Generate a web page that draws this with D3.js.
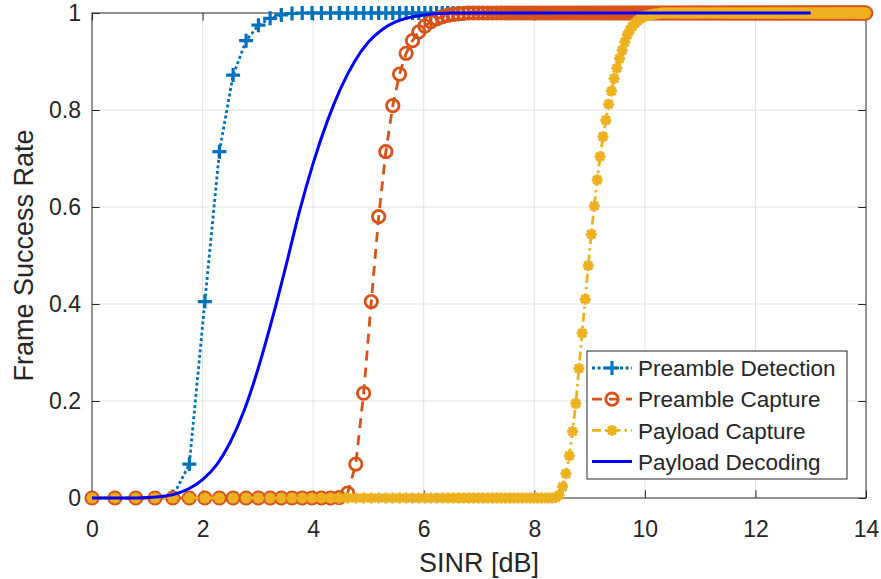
<!DOCTYPE html>
<html><head><meta charset="utf-8">
<script src="https://cdn.jsdelivr.net/npm/d3@7"></script>
<style>
body{margin:0;background:#fff}
svg{display:block}
text{font-family:"Liberation Sans",Arial,Helvetica,sans-serif;fill:#262626}
</style>
</head><body>
<svg id="chart" width="881" height="579"></svg>
<script>
// ---------- data ----------
const xTicks = [0, 2, 4, 6, 8, 10, 12, 14];
const xTickLabels = ["0", "2", "4", "6", "8", "10", "12", "14"];
const yTicks = [0, 0.2, 0.4, 0.6, 0.8, 1];
const yTickLabels = ["0", "0.2", "0.4", "0.6", "0.8", "1"];
const seriesNames = ["Preamble Detection", "Preamble Capture", "Payload Capture", "Payload Decoding"];

// simulation sample grid: linear SINR 1.0, 1.1, ... 25.1, shown in dB
const sinrLinear = d3.range(242).map(k => 1 + k / 10);
const sinrDb = sinrLinear.map(v => 10 * Math.log10(v));

const preambleDetection = [0,0,0,0,0.003,0.07,0.405,0.714,0.872,0.943,0.975,0.989,0.996,0.999,
1,1,1,1,1,1,1,1,1,1,1,1,1,1,1,1,1,1,1,1,
1,1,1,1,1,1,1,1,1,1,1,1,1,1,1,1,1,1,1,1,
1,1,1,1,1,1,1,1,1,1,1,1,1,1,1,1,1,1,1,1,
1,1,1,1,1,1,1,1,1,1,1,1,1,1,1,1,1,1,1,1,
1,1,1,1,1,1,1,1,1,1,1,1,1,1,1,1,1,1,1,1,
1,1,1,1,1,1,1,1,1,1,1,1,1,1,1,1,1,1,1,1,
1,1,1,1,1,1,1,1,1,1,1,1,1,1,1,1,1,1,1,1,
1,1,1,1,1,1,1,1,1,1,1,1,1,1,1,1,1,1,1,1,
1,1,1,1,1,1,1,1,1,1,1,1,1,1,1,1,1,1,1,1,
1,1,1,1,1,1,1,1,1,1,1,1,1,1,1,1,1,1,1,1,
1,1,1,1,1,1,1,1,1,1,1,1,1,1,1,1,1,1,1,1,
1,1,1,1,1,1,1,1];

const preambleCapture = [0,0,0,0,0,0,0,0,0,0,0,0,0,0,0,0,0,0,
0.001,0.01,0.07,0.216,0.405,0.58,0.714,0.809,0.874,0.917,0.943,0.961,0.973,0.982,0.988,0.992,0.995,0.997,0.998,0.999,
1,1,1,1,1,1,1,1,1,1,1,1,1,1,1,1,1,1,1,1,
1,1,1,1,1,1,1,1,1,1,1,1,1,1,1,1,1,1,1,1,
1,1,1,1,1,1,1,1,1,1,1,1,1,1,1,1,1,1,1,1,
1,1,1,1,1,1,1,1,1,1,1,1,1,1,1,1,1,1,1,1,
1,1,1,1,1,1,1,1,1,1,1,1,1,1,1,1,1,1,1,1,
1,1,1,1,1,1,1,1,1,1,1,1,1,1,1,1,1,1,1,1,
1,1,1,1,1,1,1,1,1,1,1,1,1,1,1,1,1,1,1,1,
1,1,1,1,1,1,1,1,1,1,1,1,1,1,1,1,1,1,1,1,
1,1,1,1,1,1,1,1,1,1,1,1,1,1,1,1,1,1,1,1,
1,1,1,1,1,1,1,1,1,1,1,1,1,1,1,1,1,1,1,1,
1,1,1,1];

const payloadCapture = [
0,0,0,0,0,0,0,0,0,0,0,0,0,0,0,0,0,0,0,0,
0,0,0,0,0,0,0,0,0,0,0,0,0,0,0,0,0,0,0,0,
0,0,0,0,0,0,0,0,0,0,0,0,0,0,0,0,0,0,0,0.001,
0.006,0.023,0.05,0.087,0.137,0.195,0.267,0.34,0.41,0.479,0.544,0.602,0.656,0.704,0.745,0.779,0.812,0.839,0.865,0.886,
0.906,0.923,0.94,0.955,0.965,0.973,0.979,0.984,0.988,0.991,0.993,0.995,0.996,0.997,0.998,0.998,0.999,
1,1,1,1,1,1,1,1,1,1,1,1,1,1,1,1,1,1,1,1,
1,1,1,1,1,1,1,1,1,1,1,1,1,1,1,1,1,1,1,1,
1,1,1,1,1,1,1,1,1,1,1,1,1,1,1,1,1,1,1,1,
1,1,1,1,1,1,1,1,1,1,1,1,1,1,1,1,1,1,1,1,
1,1,1,1,1,1,1,1,1,1,1,1,1,1,1,1,1,1,1,1,
1,1,1,1,1,1,1,1,1,1,1,1,1,1,1,1,1,1,1,1,
1,1,1,1,1,1,1,1,1,1,1,1,1,1,1,1,1,1,1,1,
1,1,1,1,1];

// payload decoding curve, sampled every 0.25 dB from 0 to 13 dB
const decodingSinrDb = d3.range(53).map(k => k * 0.25);
const payloadDecoding = [0,0,0,0,0.001,0.003,0.008,0.019,0.038,0.068,0.115,0.18,0.265,0.365,0.475,0.59,0.69,0.775,0.845,0.9,0.94,0.966,0.982,0.991,0.996,0.999,
1,1,1,1,1,1,1,1,1,1,1,1,1,1,1,1,1,1,1,1,1,1,1,1,1,1,1];

// ---------- chart ----------
const svg = d3.select("#chart");
const L = 92, R = 866, T = 13, B = 498;
const x = d3.scaleLinear().domain([0, 14]).range([L, R]);
const y = d3.scaleLinear().domain([0, 1]).range([B, T]);
const axisColor = "#262626";
const gridColor = "#e3e3e3";
const tickLen = 7.7;

// grid
svg.append("g").selectAll("line").data(xTicks.slice(1, -1)).join("line")
  .attr("x1", d => x(d)).attr("x2", d => x(d)).attr("y1", T).attr("y2", B)
  .attr("stroke", gridColor).attr("stroke-width", 1);
svg.append("g").selectAll("line").data(yTicks.slice(1, -1)).join("line")
  .attr("y1", d => y(d)).attr("y2", d => y(d)).attr("x1", L).attr("x2", R)
  .attr("stroke", gridColor).attr("stroke-width", 1);

// axes (ticks inward on all 4 sides)
function styleAxis(g) {
  g.select(".domain").remove();
  g.selectAll(".tick line").attr("stroke", axisColor).attr("stroke-width", 1);
  g.selectAll(".tick text").attr("fill", axisColor).style("font-size", "23px")
    .style("font-family", '"Liberation Sans",Arial,sans-serif');
}
svg.append("g").attr("transform", `translate(0,${B})`)
  .call(d3.axisBottom(x).tickValues(xTicks).tickFormat((d, i) => xTickLabels[i]).tickSize(-tickLen).tickPadding(22.5))
  .call(styleAxis);
svg.append("g").attr("transform", `translate(0,${T})`)
  .call(d3.axisTop(x).tickValues(xTicks).tickFormat("").tickSize(-tickLen))
  .call(styleAxis);
svg.append("g").attr("transform", `translate(${L},0)`)
  .call(d3.axisLeft(y).tickValues(yTicks).tickFormat((d, i) => yTickLabels[i]).tickSize(-tickLen).tickPadding(11))
  .call(styleAxis);
svg.append("g").attr("transform", `translate(${R},0)`)
  .call(d3.axisRight(y).tickValues(yTicks).tickFormat("").tickSize(-tickLen))
  .call(styleAxis);

svg.append("rect").attr("x", L).attr("y", T).attr("width", R - L).attr("height", B - T)
  .attr("fill", "none").attr("stroke", axisColor).attr("stroke-width", 1);

// axis labels
svg.append("text").attr("x", (L + R) / 2).attr("y", 572).attr("text-anchor", "middle")
  .style("font-size", "27px").text("SINR [dB]");
svg.append("text").attr("transform", `translate(33,${(T + B) / 2}) rotate(-90)`).attr("text-anchor", "middle")
  .style("font-size", "27px").text("Frame Success Rate");

// marker shapes
const markerPaths = {
  plus: "M-7,0H7M0,-7V7",
  circle: d3.arc()({innerRadius: 0, outerRadius: 6.2, startAngle: 0, endAngle: 2 * Math.PI}),
  star: "M-5.5,0H5.5M0,-5.5V5.5M-4,-4L4,4M-4,4L4,-4",
  none: null
};

const series = [
  {name: seriesNames[0], xs: sinrDb, ys: preambleDetection, color: "#0072BD", dash: "3,2.6", width: 2.8, marker: "plus", mw: 3.2},
  {name: seriesNames[1], xs: sinrDb, ys: preambleCapture, color: "#D95319", dash: "10,7", width: 2.8, marker: "circle", mw: 2.8},
  {name: seriesNames[2], xs: sinrDb, ys: payloadCapture, color: "#EDB120", dash: "9,4,2.5,4", width: 2.8, marker: "star", mw: 3},
  {name: seriesNames[3], xs: decodingSinrDb, ys: payloadDecoding, color: "#0000FF", dash: null, width: 3, marker: "none", mw: 0, smooth: true}
];

series.forEach(s => {
  const n = Math.min(s.xs.length, s.ys.length);
  const pts = d3.range(n).map(i => ({x: s.xs[i], y: s.ys[i]}));
  const g = svg.append("g");
  const line = d3.line().x(d => x(d.x)).y(d => y(d.y));
  if (s.smooth) line.curve(d3.curveMonotoneX);
  g.append("path").datum(pts).attr("d", line).attr("fill", "none")
    .attr("stroke", s.color).attr("stroke-width", s.width)
    .attr("stroke-dasharray", s.dash).attr("stroke-linejoin", "round");
  if (markerPaths[s.marker]) {
    g.selectAll("path.m").data(pts).join("path").attr("class", "m")
      .attr("transform", d => `translate(${x(d.x)},${y(d.y)})`)
      .attr("d", markerPaths[s.marker]).attr("fill", "none")
      .attr("stroke", s.color).attr("stroke-width", s.mw);
  }
});

// legend
const lg = svg.append("g");
lg.append("rect").attr("x", 587).attr("y", 351).attr("width", 260).attr("height", 128)
  .attr("fill", "#fff").attr("stroke", axisColor).attr("stroke-width", 1);
series.forEach((s, i) => {
  const cy = 368 + i * 31.2;
  lg.append("line").attr("x1", 592).attr("x2", 632).attr("y1", cy).attr("y2", cy)
    .attr("stroke", s.color).attr("stroke-width", s.width).attr("stroke-dasharray", s.dash);
  if (markerPaths[s.marker]) {
    lg.append("path").attr("transform", `translate(612,${cy})`).attr("d", markerPaths[s.marker])
      .attr("fill", "none").attr("stroke", s.color).attr("stroke-width", s.mw);
  }
  lg.append("text").attr("x", 638).attr("y", cy).attr("dy", "0.36em")
    .style("font-size", "22.5px").text(s.name);
});
</script>
</body></html>
